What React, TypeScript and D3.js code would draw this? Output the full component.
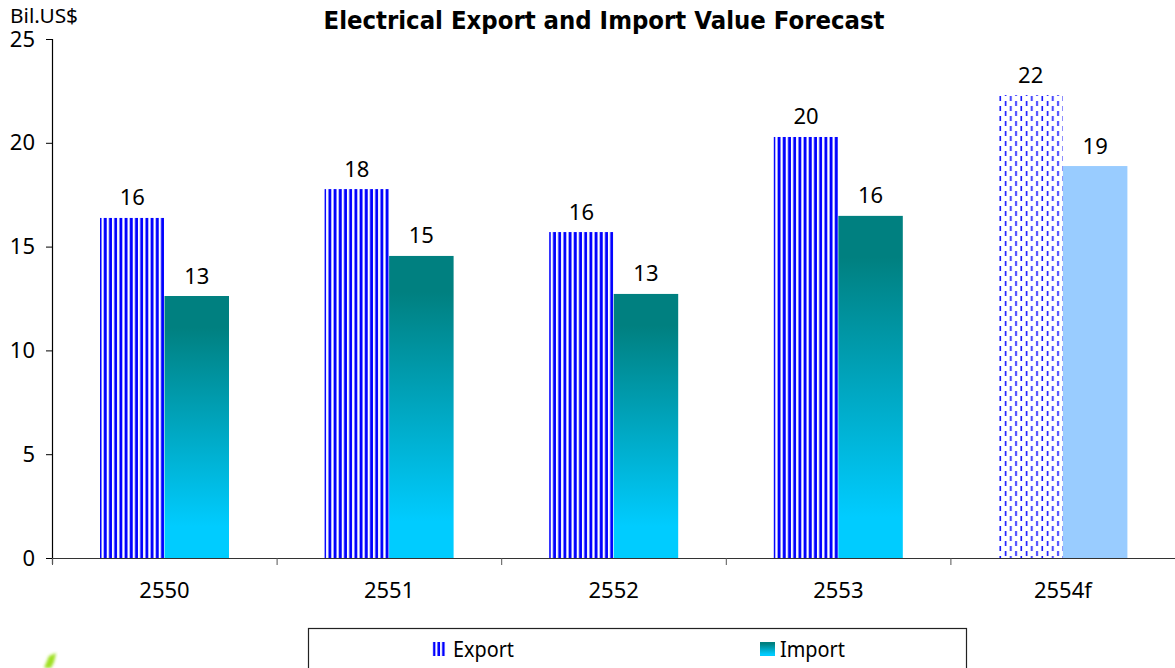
import React from "react";
import * as d3 from "d3";

const categories = ["2550", "2551", "2552", "2553", "2554f"];
const exportValues = [16.38, 17.77, 15.7, 20.28, 22.3];
const importValues = [12.62, 14.55, 12.72, 16.48, 18.88];
const yTicks = [0, 5, 10, 15, 20, 25];
const title = "Electrical Export and Import Value Forecast";
const unit = "Bil.US$";
const font = "'Noto Sans', 'DejaVu Sans', sans-serif";

const x = d3.scaleBand<string>().domain(categories).range([52, 1175]);
const y = d3.scaleLinear().domain([0, 25]).range([558, 39]);
const barW = 64.5;

export default function App() {
  const band = x.bandwidth();
  const edges = [...categories.map((c) => x(c) as number), 1175];
  return (
    <svg width={1175} height={668} style={{ position: "absolute", left: 0, top: 0, background: "#fff" }} fontFamily={font}>
      <defs>
        {categories.map((c) => (
          <pattern key={c} id={`stripes-${c}`} patternUnits="userSpaceOnUse" width={5.2} height={10} x={(x(c) as number) + band / 2 + 0.2 - barW - 2.8}>
            <rect width={5.2} height={10} fill="#fff" />
            <rect x={1.4} width={2.9} height={10} fill="#0000FF" />
          </pattern>
        ))}
        <pattern id="legendStripes" patternUnits="userSpaceOnUse" width={4.6} height={10} x={432.6}>
          <rect width={4.6} height={10} fill="#fff" />
          <rect x={0.3} width={2.5} height={10} fill="#0000FF" />
        </pattern>
        <pattern id="dashes" patternUnits="userSpaceOnUse" width={10.5} height={10} x={999.1} y={95}>
          <rect width={10.5} height={10} fill="#fff" />
          <rect x={0.4} y={1} width={1.6} height={5} fill="#1515FF" />
          <rect x={5.65} y={6} width={1.6} height={5} fill="#1515FF" />
          <rect x={5.65} y={-4} width={1.6} height={5} fill="#1515FF" />
        </pattern>
        <linearGradient id="teal" x1="0" y1="0" x2="0" y2="1">
          <stop offset="0" stopColor="#008080" />
          <stop offset="0.12" stopColor="#008080" />
          <stop offset="0.88" stopColor="#00CCFF" />
          <stop offset="1" stopColor="#00CCFF" />
        </linearGradient>
        <filter id="soft"><feGaussianBlur stdDeviation="1.6" /></filter>
      </defs>

      {categories.map((c, i) => {
        const cx = (x(c) as number) + band / 2 + 0.2;
        const last = i === categories.length - 1;
        return (
          <g key={c}>
            <rect x={cx - barW} y={y(exportValues[i])} width={barW} height={y(0) - y(exportValues[i])} fill={last ? "url(#dashes)" : `url(#stripes-${c})`} />
            <rect x={cx} y={y(importValues[i])} width={barW} height={y(0) - y(importValues[i])} fill={last ? "#99CCFF" : "url(#teal)"} />
            <text x={cx - barW / 2} y={y(exportValues[i]) - 12.5} textAnchor="middle" fontSize={22} fill="#000">{Math.round(exportValues[i])}</text>
            <text x={cx + barW / 2} y={y(importValues[i]) - 12.5} textAnchor="middle" fontSize={22} fill="#000">{Math.round(importValues[i])}</text>
            <text x={cx} y={598} textAnchor="middle" fontSize={22} fill="#000">{c}</text>
          </g>
        );
      })}

      <line x1={52.5} x2={52.5} y1={39} y2={564} stroke="#000" strokeWidth={1.2} />
      <line x1={46} x2={1175} y1={558.5} y2={558.5} stroke="#333" strokeWidth={1.2} />
      {yTicks.map((t) => (
        <g key={t}>
          <line x1={46} x2={52} y1={y(t) + 0.5} y2={y(t) + 0.5} stroke="#000" />
          <text x={35} y={y(t) + 7.5} textAnchor="end" fontSize={22} fill="#000">{t}</text>
        </g>
      ))}
      {edges.map((e) => (
        <line key={e} x1={e + 0.5} x2={e + 0.5} y1={558} y2={565} stroke="#555" />
      ))}

      <text x={10} y={23} fontSize={20} fill="#000" textLength={68} lengthAdjust="spacingAndGlyphs">{unit}</text>
      <text x={604} y={29} textAnchor="middle" fontFamily="'DejaVu Sans', sans-serif" fontSize={24} fontWeight={700} fill="#000" textLength={561} lengthAdjust="spacingAndGlyphs">{title}</text>

      <rect x={308.5} y={628.5} width={658} height={60} fill="#fff" stroke="#222" strokeWidth={1.2} />
      <rect x={432.6} y={642} width={13.4} height={14} fill="url(#legendStripes)" />
      <text x={453} y={657} fontSize={22} fill="#000" textLength={61} lengthAdjust="spacingAndGlyphs">Export</text>
      <rect x={760} y={642} width={15} height={14} fill="url(#teal)" />
      <text x={780} y={657} fontSize={22} fill="#000" textLength={65} lengthAdjust="spacingAndGlyphs">Import</text>

      <path d="M44 668 L49 656 L56 653 L54 662 L51 668 Z" fill="#9fe020" filter="url(#soft)" />
    </svg>
  );
}
